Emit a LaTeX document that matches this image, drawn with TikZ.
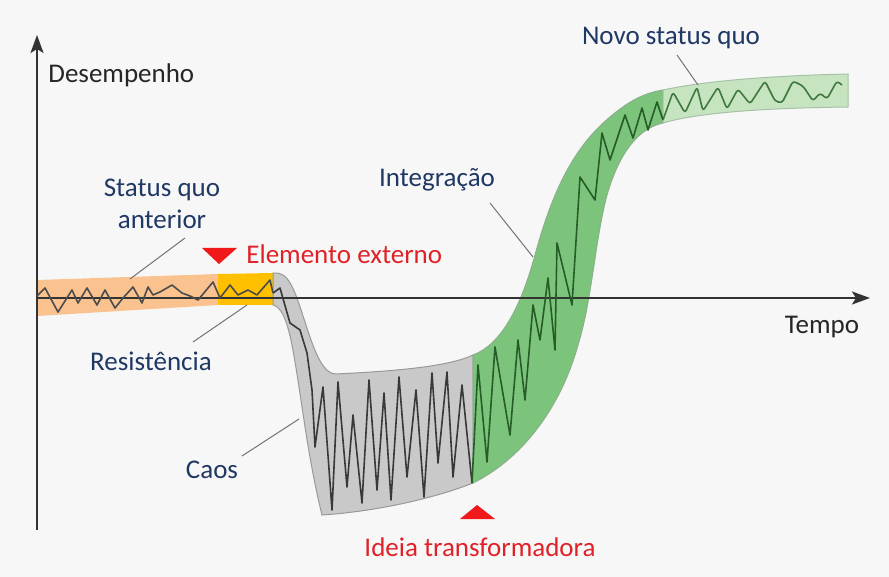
\documentclass[tikz,border=0pt]{standalone}
\usepackage{fontspec}
\setmainfont{Carlito}
\usetikzlibrary{arrows.meta}
\definecolor{bg}{HTML}{F7F7F7}
\definecolor{navy}{HTML}{1F3864}
\definecolor{redlab}{HTML}{E02228}
\definecolor{redtri}{HTML}{F01818}
\definecolor{orangeband}{HTML}{F9C28F}
\definecolor{goldband}{HTML}{FFC000}
\definecolor{greyband}{HTML}{C9C9C9}
\definecolor{greenband}{HTML}{7CC47C}
\definecolor{lgreenband}{HTML}{C6E4C0}
\begin{document}
\begin{tikzpicture}[x=0.5pt,y=-0.5pt,
  lab/.style={font=\fontsize{13.5}{16}\selectfont, inner sep=0pt},
  navylab/.style={lab, text=navy},
  redl/.style={lab, text=redlab},
  axlab/.style={lab, text=black!85},
  leader/.style={draw=black!55, line width=0.5pt},
  wiggle/.style={line width=0.8pt, line join=round},
  axisline/.style={draw=black!80, line width=1pt, -{Stealth[length=9pt,width=6.5pt,inset=2pt]}},
  bandedge/.style={line width=0.5pt}]
% background / bounding box
\fill[bg] (0,0) rectangle (889,577);
\useasboundingbox (0,0) rectangle (889,577);

% bands
\fill[orangeband] (37,280) -- (218,274) -- (218,305) -- (37,316) -- cycle;
\fill[goldband] (218,274) -- (273,273) -- (273,305) -- (218,305) -- cycle;
\filldraw[fill=greyband, draw=black!40, bandedge]
  (273,273) .. controls (285,272) and (290,280) .. (297,298)
  .. controls (310,335) and (318,372) .. (335,374)
  .. controls (400,371) and (450,366) .. (473,355)
  -- (473,483)
  .. controls (430,500) and (370,512) .. (322,515)
  .. controls (306,450) and (301,390) .. (291,340)
  .. controls (286,318) and (281,307) .. (273,305) -- cycle;
\filldraw[fill=greenband, draw=green!30!black!45, bandedge]
  (473,355) .. controls (500,345) and (520,310) .. (535,255)
  .. controls (550,200) and (570,150) .. (610,117)
  .. controls (630,100) and (645,93) .. (663,90)
  -- (663,123)
  .. controls (640,128) and (620,150) .. (607,195)
  .. controls (595,240) and (592,300) .. (578,345)
  .. controls (560,410) and (520,460) .. (473,483) -- cycle;
\filldraw[fill=lgreenband, draw=green!30!black!35, bandedge]
  (663,90) .. controls (700,82) and (760,76) .. (848,74)
  -- (848,107)
  .. controls (770,108) and (700,112) .. (663,123) -- cycle;

% axes
\coordinate (ybot) at (37,530);
\coordinate (ytop) at (37,35);
\coordinate (xleft) at (37,298);
\coordinate (xright) at (870,298);
\draw[axisline] (ybot) -- (ytop);
\draw[axisline] (xleft) -- (xright);

% performance line
\draw[wiggle, draw=black!70] plot coordinates {(37,296) (45,288) (58,312) (72,290) (78,303) (87,288) (97,305) (105,290) (115,308) (123,298) (133,287) (142,303) (148,287) (153,295) (160,292) (172,285) (182,293) (190,296) (198,300) (213,282) (220,298) (230,285) (238,295) (248,290) (257,295) (270,280) (273,293)};
\draw[wiggle, draw=black!78] plot coordinates {(273,293) (280,288) (290,323) (300,330) (307,353) (312,390) (315,447) (323,387) (332,510) (338,382) (347,487) (353,415) (362,503) (369,380) (377,490) (384,393) (391,500) (399,377) (407,477) (416,390) (424,497) (432,373) (438,463) (447,372) (453,477) (462,385) (472,483)};
\draw[wiggle, draw=green!25!black!85] plot coordinates {(472,483) (478,365) (487,462) (495,347) (510,435) (518,340) (525,400) (533,305) (540,340) (548,278) (555,350) (557,243) (572,305) (580,177) (595,200) (602,133) (610,160) (625,115) (633,138) (642,108) (648,130) (657,102) (663,120)};
\draw[wiggle, draw=green!30!black!75, rounded corners=1.5pt] (663,120) -- (673,92) -- (685,113) -- (697,87) -- (703,111) -- (718,87) -- (727,109) -- (738,89) -- (750,104) -- (765,81) -- (775,101) -- (782,103) -- (793,81) -- (803,86) -- (813,101) -- (820,93) -- (827,99) -- (837,81) -- (842,85);

% markers
\fill[redtri] (202,248) -- (237,248) -- (219,264) -- cycle;
\fill[redtri] (460,519) -- (495,519) -- (477,505) -- cycle;

% labels
\node[axlab, anchor=west] (ylab) at (48,75) {Desempenho};
\node[axlab] (xlab) at (822,327) {Tempo};
\node[navylab, align=center] (sq) at (162,204) {Status quo\\anterior};
\node[redl, anchor=west] (ext) at (246,254) {Elemento externo};
\node[navylab] (res) at (151,361) {Resistência};
\node[navylab] (caos) at (212,470) {Caos};
\node[navylab] (integ) at (437,180) {Integração};
\node[navylab] (novo) at (671,38) {Novo status quo};
\node[redl] (ideia) at (480,547) {Ideia transformadora};

% leader lines
\coordinate (sqa) at (185,238);   \coordinate (sqb) at (130,279);
\coordinate (resa) at (193,342);  \coordinate (resb) at (247,305);
\coordinate (caosa) at (242,456); \coordinate (caosb) at (299,419);
\coordinate (inta) at (490,203);  \coordinate (intb) at (533,257);
\coordinate (novoa) at (677,55);  \coordinate (novob) at (698,85);
\draw[leader] (sqa) -- (sqb);
\draw[leader] (resa) -- (resb);
\draw[leader] (caosa) -- (caosb);
\draw[leader] (inta) -- (intb);
\draw[leader] (novoa) -- (novob);
\end{tikzpicture}
\end{document}
